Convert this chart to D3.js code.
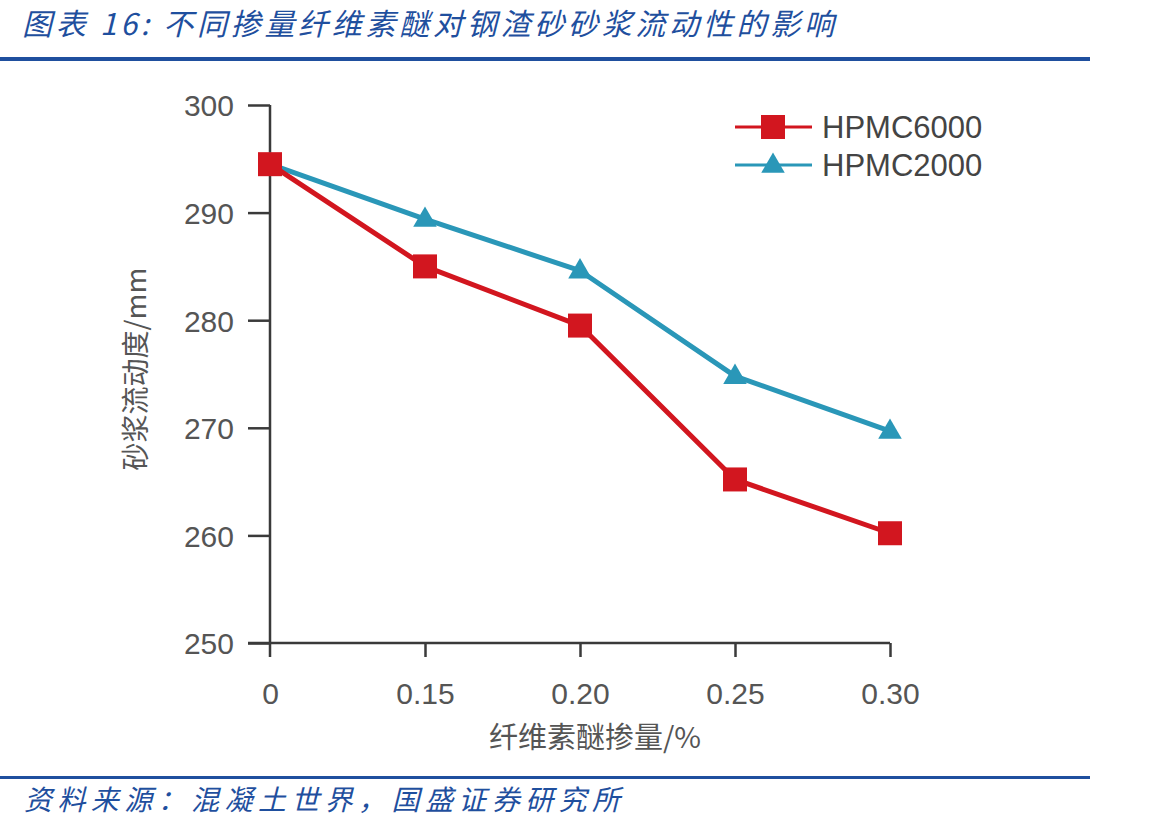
<!DOCTYPE html>
<html>
<head>
<meta charset="utf-8">
<script src="https://cdn.jsdelivr.net/npm/d3@7"></script>
<style>
  html, body { margin: 0; padding: 0; background: #fff; }
  svg { display: block; }
</style>
</head>
<body>
<div id="chart"></div>
<script>
// data
const categories = ['0', '0.15', '0.20', '0.25', '0.30']
const hpmc6000 = [294.5, 285.0, 279.5, 265.2, 260.2]
const hpmc2000 = [294.5, 289.4, 284.6, 274.8, 269.7]
const yTicks = [250, 260, 270, 280, 290, 300]

const series = [
  { name: 'HPMC2000', values: hpmc2000, color: '#2a97b8', marker: 'triangle' },
  { name: 'HPMC6000', values: hpmc6000, color: '#d2161f', marker: 'square' }
]

const W = 1170, H = 830
const blue = '#1f4f9e'
const axisColor = '#3a3a3a'
const textColor = '#555'
const font = 'Helvetica, Arial, "Liberation Sans", sans-serif'
const cjk = '"Noto Sans CJK SC", sans-serif'

const svg = d3.select('#chart').append('svg')
  .attr('width', W).attr('height', H)

// header / footer
svg.append('text').attr('x', 22).attr('y', 35)
  .attr('fill', blue).style('font-family', cjk).style('font-style', 'italic')
  .style('font-size', '30px')
  .attr('textLength', 812).attr('lengthAdjust', 'spacing')
  .text('图表 16:  不同掺量纤维素醚对钢渣砂砂浆流动性的影响')
svg.append('rect').attr('x', 0).attr('y', 57).attr('width', 1090).attr('height', 4).attr('fill', blue)
svg.append('rect').attr('x', 0).attr('y', 776).attr('width', 1090).attr('height', 3).attr('fill', blue)
svg.append('text').attr('x', 24).attr('y', 810)
  .attr('fill', blue).style('font-family', cjk).style('font-style', 'italic')
  .style('font-size', '28px')
  .attr('textLength', 596).attr('lengthAdjust', 'spacing')
  .text('资料来源：混凝土世界，国盛证券研究所')

// scales
const x = d3.scalePoint().domain(categories).range([270, 890])
const y = d3.scaleLinear().domain([250, 300]).range([643, 105])

const g = svg.append('g')

// y axis
const yAxis = g.append('g').attr('transform', 'translate(270,0)')
  .call(d3.axisLeft(y).tickValues(yTicks).tickSize(22).tickPadding(14).tickFormat(d3.format('d')))
yAxis.select('.domain').attr('d', `M0,${y(300)}V${y(250) + 14}`)
// x axis
const xAxis = g.append('g').attr('transform', `translate(0,${y(250)})`)
  .call(d3.axisBottom(x).tickSize(14).tickPadding(26))
xAxis.select('.domain').attr('d', `M248,0H${x('0.30')}`)

g.selectAll('.domain, .tick line').attr('stroke', axisColor).attr('stroke-width', 2.5)
g.selectAll('.tick text').attr('fill', textColor)
  .style('font-family', font).style('font-size', '30px')
xAxis.selectAll('.tick').filter(d => d === '0').select('line').remove()
yAxis.selectAll('.tick text').attr('dy', '0.36em')

// axis titles
svg.append('text').attr('x', 595).attr('y', 748).attr('text-anchor', 'middle')
  .attr('fill', textColor).style('font-family', cjk).style('font-size', '29px')
  .text('纤维素醚掺量/%')
svg.append('text').attr('transform', 'translate(146,369) rotate(-90)')
  .attr('text-anchor', 'middle')
  .attr('fill', textColor).style('font-family', cjk).style('font-size', '28px')
  .text('砂浆流动度/mm')

// lines + markers
const line = d3.line().x((d, i) => x(categories[i])).y(d => y(d))
const tri = d3.symbol().type(d3.symbolTriangle).size(240)

function drawMarker(sel, s, cx, cy) {
  if (s.marker === 'square') {
    sel.append('rect').attr('x', cx - 12).attr('y', cy - 12).attr('width', 24).attr('height', 24)
      .attr('fill', s.color)
  } else {
    sel.append('path').attr('d', tri()).attr('transform', `translate(${cx},${cy + 1})`)
      .attr('fill', s.color)
  }
}

series.forEach(s => {
  g.append('path').datum(s.values).attr('d', line)
    .attr('fill', 'none').attr('stroke', s.color).attr('stroke-width', 5)
    .attr('stroke-linejoin', 'round')
})
series.forEach(s => {
  const mg = g.append('g')
  s.values.forEach((v, i) => drawMarker(mg, s, x(categories[i]), y(v)))
})

// legend
const legendItems = [series[1], series[0]]
legendItems.forEach((s, i) => {
  const ly = 127 + i * 38
  const lg = svg.append('g')
  lg.append('line').attr('x1', 735).attr('x2', 812).attr('y1', ly).attr('y2', ly)
    .attr('stroke', s.color).attr('stroke-width', 3)
  drawMarker(lg, s, 773, ly)
  lg.append('text').attr('x', 822).attr('y', ly).attr('dy', '0.36em')
    .attr('fill', '#444').style('font-family', font).style('font-size', '31px')
    .text(s.name)
})
</script>
</body>
</html>
